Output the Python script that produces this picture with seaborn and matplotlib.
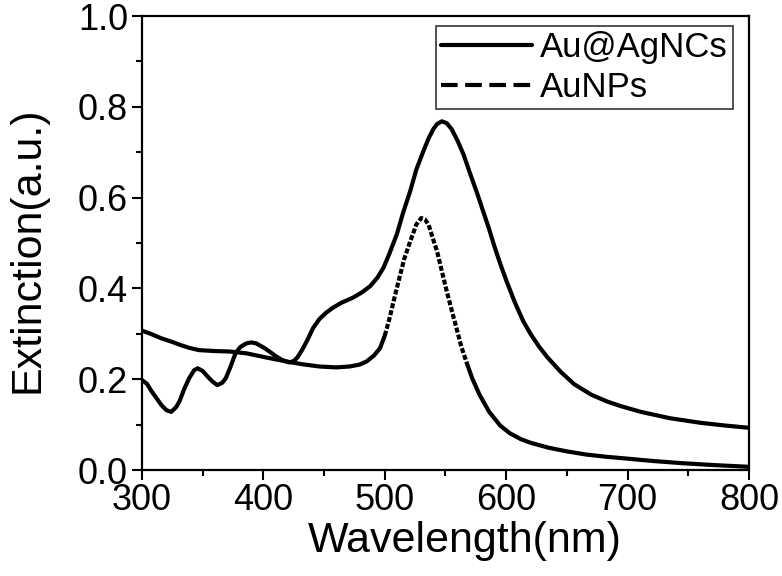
import numpy as np
import pandas as pd
import matplotlib
matplotlib.use("Agg")
import matplotlib.pyplot as plt
from matplotlib.lines import Line2D
import seaborn as sns

# Au@AgNCs (solid)
wl_agnc = [300, 304, 308, 312, 316, 320, 324, 328, 331, 335, 339, 343, 346, 350, 354, 358,
           362, 366, 369, 373, 377, 381, 386, 390, 394, 400, 405, 410, 415, 421, 425, 428,
           432, 436, 441, 446, 451, 457, 464, 474, 481, 488, 494, 499, 504, 510, 515, 521,
           526, 532, 536, 540, 543, 547, 551, 555, 560, 565, 570, 576, 581, 586, 590, 595,
           600, 607, 614, 620, 627, 634, 645, 656, 670, 683, 694, 711, 735, 760, 780, 800]
ext_agnc = [0.198, 0.190, 0.173, 0.158, 0.143, 0.132, 0.128, 0.138, 0.152, 0.180, 0.203, 0.220,
            0.224, 0.218, 0.206, 0.195, 0.187, 0.192, 0.202, 0.228, 0.257, 0.271, 0.279, 0.281,
            0.279, 0.270, 0.261, 0.251, 0.243, 0.237, 0.240, 0.248, 0.265, 0.285, 0.313, 0.332,
            0.345, 0.357, 0.368, 0.380, 0.391, 0.405, 0.424, 0.446, 0.478, 0.520, 0.566, 0.615,
            0.662, 0.704, 0.730, 0.751, 0.762, 0.768, 0.764, 0.751, 0.725, 0.694, 0.655, 0.610,
            0.570, 0.530, 0.495, 0.455, 0.418, 0.370, 0.328, 0.300, 0.272, 0.248, 0.216, 0.189,
            0.166, 0.151, 0.141, 0.128, 0.114, 0.104, 0.098, 0.093]

# AuNPs (dashed)
wl_aunp = [300, 308, 316, 325, 332, 339, 347, 360, 372, 386, 402, 419, 432, 446, 460, 471,
           479, 485, 491, 496, 500, 504, 508, 512, 516, 521, 526, 530, 533, 536, 539, 543,
           547, 551, 555, 559, 563, 568, 572, 578, 586, 595, 603, 612, 620, 635, 650, 666, 683,
           700, 720, 745, 770, 800]
ext_aunp = [0.307, 0.299, 0.290, 0.282, 0.275, 0.269, 0.264, 0.262, 0.261, 0.257, 0.248, 0.239,
            0.233, 0.228, 0.226, 0.228, 0.232, 0.239, 0.252, 0.268, 0.296, 0.335, 0.380, 0.423,
            0.465, 0.504, 0.541, 0.555, 0.552, 0.541, 0.515, 0.482, 0.438, 0.394, 0.353, 0.313,
            0.272, 0.232, 0.202, 0.166, 0.128, 0.098, 0.081, 0.068, 0.060, 0.049, 0.041, 0.034,
            0.029, 0.025, 0.020, 0.015, 0.011, 0.007]

xticks = [300, 400, 500, 600, 700, 800]
yticks = [0.0, 0.2, 0.4, 0.6, 0.8, 1.0]
series_names = ["Au@AgNCs", "AuNPs"]

sns.set_style("ticks")
plt.rcParams['font.family'] = ['Liberation Sans', 'DejaVu Sans']
plt.rcParams['text.color'] = 'black'
plt.rcParams['axes.labelcolor'] = 'black'

fig = plt.figure(figsize=(7.82, 5.76), dpi=100)
ax = fig.add_axes([142 / 782, 106 / 576, 607 / 782, 454 / 576])

lw = 3.0
df1 = pd.DataFrame({"wl": wl_agnc, "ext": ext_agnc})
sns.lineplot(data=df1, x="wl", y="ext", ax=ax, color="black", lw=lw, sort=True)

df2 = pd.DataFrame({"wl": wl_aunp, "ext": ext_aunp})
seg_a = df2[df2.wl <= 500]
seg_b = df2[(df2.wl >= 500) & (df2.wl <= 568)]
seg_c = df2[df2.wl >= 568]
sns.lineplot(data=seg_a, x="wl", y="ext", ax=ax, color="black", lw=lw)
sns.lineplot(data=seg_b, x="wl", y="ext", ax=ax, color="black", lw=lw)
ax.lines[-1].set_dashes((1.2, 0.5))
sns.lineplot(data=seg_c, x="wl", y="ext", ax=ax, color="black", lw=lw)
for ln in ax.lines:
    ln.set_solid_joinstyle("round")
    ln.set_solid_capstyle("round")

ax.set_xlim(300, 800)
ax.set_ylim(0, 1.0)
ax.set_xticks(xticks)
ax.set_yticks(yticks)
ax.set_xticklabels([str(t) for t in xticks])
ax.set_yticklabels([f"{t:.1f}" for t in yticks])
ax.set_xticks([350, 450, 550, 650, 750], minor=True)
ax.set_yticks([0.1, 0.3, 0.5, 0.7, 0.9], minor=True)
ax.tick_params(which="major", direction="out", length=7, width=1.5, labelsize=26,
               colors="black", labelcolor="black")
ax.tick_params(axis="x", which="major", pad=2)
ax.tick_params(axis="y", which="major", pad=3)
ax.tick_params(which="minor", direction="out", length=4, width=1.5, colors="black")
for s in ax.spines.values():
    s.set_visible(True)
    s.set_linewidth(1.6)
    s.set_color("black")

ax.set_xlabel("Wavelength(nm)", fontsize=31)
ax.set_ylabel("Extinction(a.u.)", fontsize=31)
ax.xaxis.set_label_coords((465 - 142) / 607, -0.112)
ax.yaxis.set_label_coords(-0.155, 0.485)

handles = [Line2D([], [], color="black", lw=lw),
           Line2D([], [], color="black", lw=lw, dashes=(4.0, 1.8))]
leg = ax.legend(handles, series_names, loc="upper right", bbox_to_anchor=(0.974, 0.978),
                fontsize=25, frameon=True, fancybox=False, edgecolor="black",
                handlelength=2.6, handletextpad=0.25, borderpad=0.15, labelspacing=0.2,
                borderaxespad=0.0)
leg.get_frame().set_linewidth(1.2)
for t in leg.get_texts():
    t.set_color("black")

fig.savefig("out.png", dpi=100)
